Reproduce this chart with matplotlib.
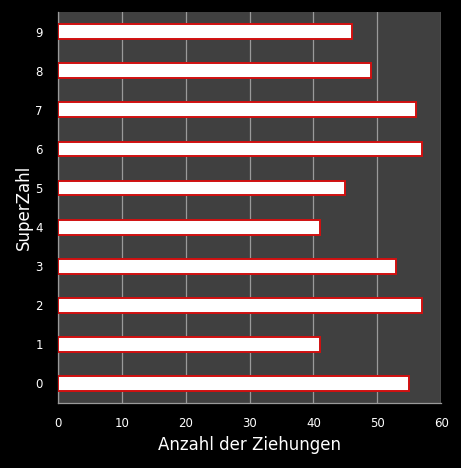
import matplotlib
matplotlib.use("Agg")
import matplotlib.pyplot as plt

categories = ["0", "1", "2", "3", "4", "5", "6", "7", "8", "9"]
counts = [55, 41, 57, 53, 41, 45, 57, 56, 49, 46]
xticks = [0, 10, 20, 30, 40, 50, 60]

fig = plt.figure(figsize=(4.61, 4.68), dpi=100, facecolor="black")
ax = fig.add_axes([0.126, 0.139, 0.831, 0.835])
ax.set_facecolor("#404040")
ypos = list(range(len(categories)))
ax.barh(ypos, counts, height=0.38, color="white", edgecolor="#d01010", linewidth=1.4, zorder=3)
ax.set_xlim(0, 60)
ax.set_ylim(-0.5, 9.5)
ax.set_xticks(xticks)
ax.set_xticklabels([str(t) for t in xticks])
ax.set_yticks(ypos)
ax.set_yticklabels(categories)
ax.grid(axis="x", color="#9a9a9a", linewidth=0.9, zorder=1)
ax.grid(axis="y", visible=False)
for s in ["top", "right"]:
    ax.spines[s].set_visible(False)
for s in ["left", "bottom"]:
    ax.spines[s].set_color("#9a9a9a")
    ax.spines[s].set_linewidth(0.9)
ax.tick_params(colors="white", labelsize=8.5, length=0, pad=10)
ax.tick_params(axis="y", pad=11)
ax.set_xlabel("Anzahl der Ziehungen", color="white", fontsize=12, va="center")
ax.set_ylabel("SuperZahl", color="white", fontsize=12, va="center")
ax.xaxis.set_label_coords(0.5, -0.107)
ax.yaxis.set_label_coords(-0.09, 0.5)
fig.savefig("out.png", dpi=100, facecolor="black")
